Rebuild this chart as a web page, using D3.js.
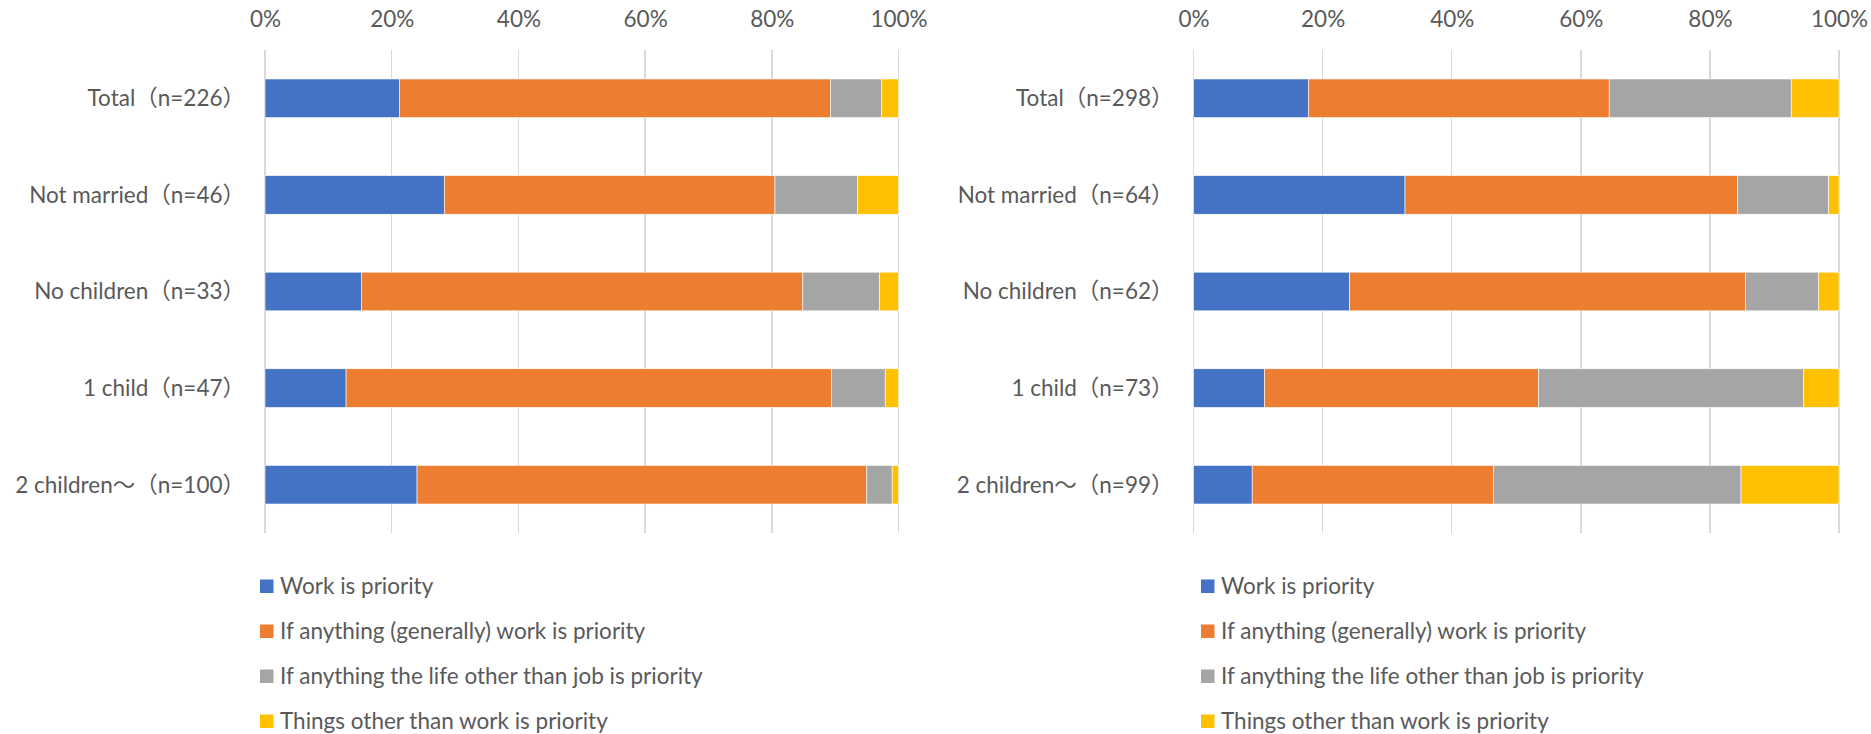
<!DOCTYPE html>
<html>
<head>
<meta charset="utf-8">
<script src="https://cdn.jsdelivr.net/npm/d3@7"></script>
<style>
  html, body { margin: 0; padding: 0; background: #fff; }
  svg { display: block; }
  text { font-family: "Lato", "Noto Sans CJK JP", sans-serif; fill: #595959; }
</style>
</head>
<body>
<svg id="chart" width="1871" height="734"></svg>
<script>
// ---- data ----
const seriesNames = [
  "Work is priority",
  "If anything (generally) work is priority",
  "If anything the life other than job is priority",
  "Things other than work is priority"
];
const seriesColors = ["#4472C4", "#ED7D31", "#A5A5A5", "#FFC000"];
const tickValues = [0, 0.2, 0.4, 0.6, 0.8, 1.0];

const categoriesLeft = ["Total（n=226）", "Not married（n=46）", "No children（n=33）", "1 child（n=47）", "2 children～（n=100）"];
const workLeft      = [21.2, 28.3, 15.2, 12.8, 24.0];
const generallyLeft = [68.1, 52.2, 69.7, 76.6, 71.0];
const lifeLeft      = [8.0, 13.0, 12.1, 8.5, 4.0];
const otherLeft     = [2.7, 6.5, 3.0, 2.1, 1.0];

const categoriesRight = ["Total（n=298）", "Not married（n=64）", "No children（n=62）", "1 child（n=73）", "2 children～（n=99）"];
const workRight      = [17.8, 32.8, 24.2, 11.0, 9.1];
const generallyRight = [46.6, 51.6, 61.3, 42.5, 37.4];
const lifeRight      = [28.2, 14.1, 11.3, 41.1, 38.4];
const otherRight     = [7.4, 1.6, 3.2, 5.5, 15.2];

// ---- drawing ----
const svg = d3.select("#chart");
const FONT = 22.5;

function drawPanel(cfg) {
  const { categories, series, x0, x1, legendX } = cfg;
  const g = svg.append("g");
  const rows = categories.map((c, i) => {
    const r = { cat: c };
    seriesNames.forEach((s, j) => r[s] = series[j][i]);
    return r;
  });
  const stacked = d3.stack().keys(seriesNames).offset(d3.stackOffsetExpand)(rows);

  const x = d3.scaleLinear().domain([0, 1]).range([x0, x1]);
  const y = d3.scaleBand().domain(categories).range([50, 533]).paddingInner(0.6).paddingOuter(0.3);

  // gridlines
  g.append("g").selectAll("line").data(tickValues).join("line")
    .attr("x1", d => x(d)).attr("x2", d => x(d))
    .attr("y1", 50).attr("y2", 533)
    .attr("stroke", "#D9D9D9").attr("stroke-width", 1.5)
    .attr("shape-rendering", "crispEdges");

  // top axis labels
  const ax = g.append("g").attr("transform", "translate(0,27)")
    .call(d3.axisTop(x).tickValues(tickValues).tickFormat(d3.format(".0%")).tickSize(0).tickPadding(0));
  ax.select(".domain").remove();
  ax.selectAll("text").attr("font-size", FONT).attr("fill", "#595959")
    .style("font-family", "Lato, sans-serif");

  // bars
  stacked.forEach((layer, j) => {
    g.append("g").selectAll("rect").data(layer).join("rect")
      .attr("x", d => x(d[0]))
      .attr("width", d => Math.max(0, x(d[1]) - x(d[0])))
      .attr("y", d => y(d.data.cat))
      .attr("height", y.bandwidth())
      .attr("fill", seriesColors[j])
      .attr("stroke", "#fff").attr("stroke-width", 0.6);
  });

  // category labels
  g.append("g").selectAll("text").data(categories).join("text")
    .attr("x", x0 - 20)
    .attr("y", d => y(d) + y.bandwidth() / 2)
    .attr("dy", "0.35em")
    .attr("text-anchor", "end")
    .attr("font-size", FONT)
    .text(d => d);

  // legend
  const lg = g.append("g");
  seriesNames.forEach((s, j) => {
    const cy = 586 + j * 45;
    lg.append("rect").attr("x", legendX).attr("y", cy - 6.5).attr("width", 13.5).attr("height", 13.5)
      .attr("fill", seriesColors[j]);
    lg.append("text").attr("x", legendX + 20).attr("y", cy).attr("dy", "0.35em")
      .attr("font-size", FONT).text(s);
  });
}

drawPanel({
  categories: categoriesLeft,
  series: [workLeft, generallyLeft, lifeLeft, otherLeft],
  x0: 265, x1: 898.5, legendX: 260
});
drawPanel({
  categories: categoriesRight,
  series: [workRight, generallyRight, lifeRight, otherRight],
  x0: 1193.5, x1: 1839, legendX: 1201
});
</script>
</body>
</html>
